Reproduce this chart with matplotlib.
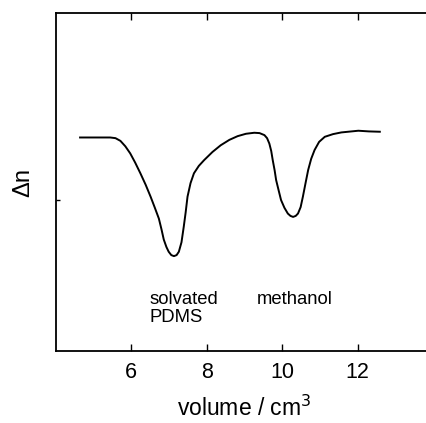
import matplotlib

matplotlib.use("Agg")
import matplotlib.pyplot as plt

# refractive index trace
volume = [4.64, 5.0, 5.44, 5.58, 5.71, 5.84, 5.97, 6.10, 6.24, 6.38, 6.51, 6.62, 6.73,
          6.80, 6.86, 6.93, 6.99, 7.06, 7.13, 7.20, 7.26, 7.33, 7.39, 7.44, 7.49,
          7.57, 7.66, 7.79, 7.93, 8.15, 8.37, 8.60, 8.82, 9.04, 9.26, 9.40, 9.53,
          9.60, 9.66, 9.71, 9.75, 9.80, 9.84, 9.91, 9.97, 10.06, 10.15, 10.22, 10.29,
          10.36, 10.42, 10.49, 10.55, 10.62, 10.69, 10.77, 10.86, 10.98, 11.13,
          11.35, 11.57, 12.02, 12.30, 12.59]
delta_n = [0.632, 0.632, 0.632, 0.630, 0.622, 0.606, 0.585, 0.558, 0.526, 0.492, 0.457,
           0.425, 0.392, 0.360, 0.330, 0.308, 0.294, 0.284, 0.281, 0.284, 0.294, 0.322,
           0.368, 0.410, 0.457, 0.497, 0.526, 0.548, 0.565, 0.589, 0.609, 0.625, 0.636,
           0.643, 0.646, 0.645, 0.639, 0.630, 0.614, 0.592, 0.565, 0.535, 0.506, 0.474,
           0.447, 0.424, 0.407, 0.400, 0.397, 0.400, 0.407, 0.426, 0.457, 0.497, 0.536,
           0.569, 0.595, 0.619, 0.634, 0.642, 0.647, 0.652, 0.650, 0.649]

peak_labels = ["solvated\nPDMS", "methanol"]
label_x = [6.48, 9.33]
label_y = [0.177, 0.177]

plt.rcParams["font.family"] = ["Liberation Sans", "DejaVu Sans"]

fig = plt.figure(figsize=(4.27, 4.23), dpi=100)
ax = fig.add_axes([0.131, 0.170, 0.883, 0.799])

ax.plot(volume, delta_n, color="black", lw=1.4, solid_joinstyle="round")

for txt, x, y in zip(peak_labels, label_x, label_y):
    ax.text(x, y, txt, fontsize=13.3, va="top", ha="left", linespacing=1.05)

ax.set_xlim(4, 14)
ax.set_ylim(0, 1)
ax.set_xticks([6, 8, 10, 12])
ax.set_yticks([0.447])
ax.set_yticklabels([])
ax.tick_params(axis="x", direction="in", top=True, length=5, width=1,
               labelsize=15.5, pad=8)
ax.tick_params(axis="y", direction="in", length=3, width=1)
ax.spines["right"].set_visible(False)
for s in ax.spines.values():
    s.set_linewidth(1.3)

ax.set_xlabel("volume / cm$^3$", fontsize=16.5, labelpad=9)
ax.set_ylabel("Δn", fontsize=17, labelpad=12)

fig.savefig("out.png", dpi=100)
